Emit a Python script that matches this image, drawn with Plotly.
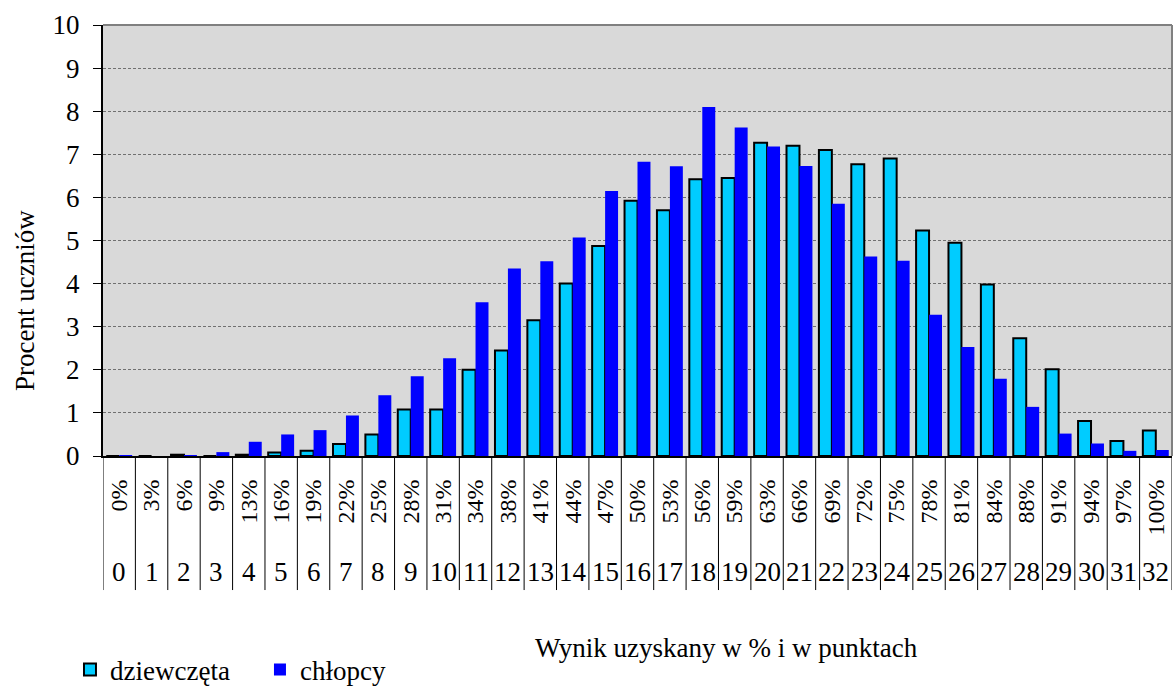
import plotly.graph_objects as go

points = list(range(33))
percent_labels = ["0%", "3%", "6%", "9%", "13%", "16%", "19%", "22%", "25%", "28%", "31%",
                  "34%", "38%", "41%", "44%", "47%", "50%", "53%", "56%", "59%", "63%", "66%",
                  "69%", "72%", "75%", "78%", "81%", "84%", "88%", "91%", "94%", "97%", "100%"]
point_labels = [str(p) for p in points]

girls = [0.0, 0.0, 0.03, 0.0, 0.03, 0.08, 0.12, 0.28, 0.5, 1.08, 1.08,
         2.0, 2.45, 3.15, 4.0, 4.87, 5.92, 5.7, 6.42, 6.45, 7.27, 7.2,
         7.1, 6.77, 6.9, 5.23, 4.95, 3.98, 2.73, 2.01, 0.81, 0.35, 0.59]
boys = [0.01, 0.0, 0.01, 0.09, 0.33, 0.5, 0.6, 0.94, 1.41, 1.85, 2.27,
        3.57, 4.35, 4.52, 5.07, 6.15, 6.83, 6.72, 8.1, 7.62, 7.18, 6.73,
        5.85, 4.63, 4.53, 3.28, 2.53, 1.79, 1.14, 0.52, 0.29, 0.12, 0.14]

FONT = "Liberation Serif, Times New Roman, serif"
BIG = 27
SMALL = 24

fig = go.Figure()
fig.add_trace(go.Bar(x=points, y=girls, name="dziewczęta",
                     marker=dict(color="#00ccff", line=dict(color="#000000", width=2))))
fig.add_trace(go.Bar(x=points, y=boys, name="chłopcy",
                     marker=dict(color="#0000ff", line=dict(color="#0000ff", width=0))))

# divider lines of the category table below the axis
for k in range(len(points) + 1):
    fig.add_shape(type="line", xref="x", yref="paper", x0=k - 0.5, x1=k - 0.5,
                  y0=0, y1=-0.311, line=dict(color="#000000", width=1))

# second row of labels: points
for p, lab in zip(points, point_labels):
    fig.add_annotation(x=p, y=-0.269, xref="x", yref="paper", text=lab, showarrow=False,
                       xanchor="center", yanchor="middle",
                       font=dict(family=FONT, size=BIG, color="#000000"))

# top / right border of plot area
fig.add_shape(type="line", xref="paper", yref="paper", x0=0, x1=1, y0=1, y1=1,
              line=dict(color="#808080", width=2))
fig.add_shape(type="line", xref="paper", yref="paper", x0=1, x1=1, y0=0, y1=1,
              line=dict(color="#808080", width=2))

fig.add_annotation(x=-0.073, y=0.362, xref="paper", yref="paper", text="Procent uczniów",
                   textangle=-90, showarrow=False, xanchor="center", yanchor="middle",
                   font=dict(family=FONT, size=BIG, color="#000000"))
fig.add_annotation(x=0.5833, y=-0.4455, xref="paper", yref="paper",
                   text="Wynik uzyskany w % i w punktach", showarrow=False,
                   xanchor="center", yanchor="middle",
                   font=dict(family=FONT, size=BIG, color="#000000"))

fig.update_layout(
    width=1174, height=687,
    margin=dict(l=103, r=2, t=25, b=231),
    paper_bgcolor="#ffffff", plot_bgcolor="#d9d9d9",
    barmode="group", bargap=0.2, bargroupgap=0.0,
    font=dict(family=FONT, size=BIG, color="#000000"),
    showlegend=True,
    legend=dict(orientation="h", xref="container", yref="container",
                x=0.0596, y=0.0247, xanchor="left", yanchor="middle",
                font=dict(family=FONT, size=BIG, color="#000000"),
                bgcolor="rgba(0,0,0,0)", entrywidth=145, entrywidthmode="pixels",
                itemclick=False, itemdoubleclick=False),
    xaxis=dict(range=[-0.5, 32.5], tickmode="array", tickvals=points, ticktext=percent_labels,
               tickangle=-90, ticks="", showgrid=False, zeroline=False,
               showline=True, linecolor="#000000", linewidth=2,
               tickfont=dict(family=FONT, size=SMALL, color="#000000"), ticklabelstandoff=12),
    yaxis=dict(range=[0, 10], dtick=1, tick0=0, ticks="outside", ticklen=8, tickcolor="#000000",
               showline=True, linecolor="#000000", linewidth=2, zeroline=False,
               showgrid=True, gridcolor="#707070", gridwidth=1, griddash="3px,2px",
               tickfont=dict(family=FONT, size=BIG, color="#000000"), ticklabelstandoff=8),
)

fig.write_html("out.html", config={"displayModeBar": False},
               post_script="document.body.style.margin='0';document.body.style.overflow='hidden';")
